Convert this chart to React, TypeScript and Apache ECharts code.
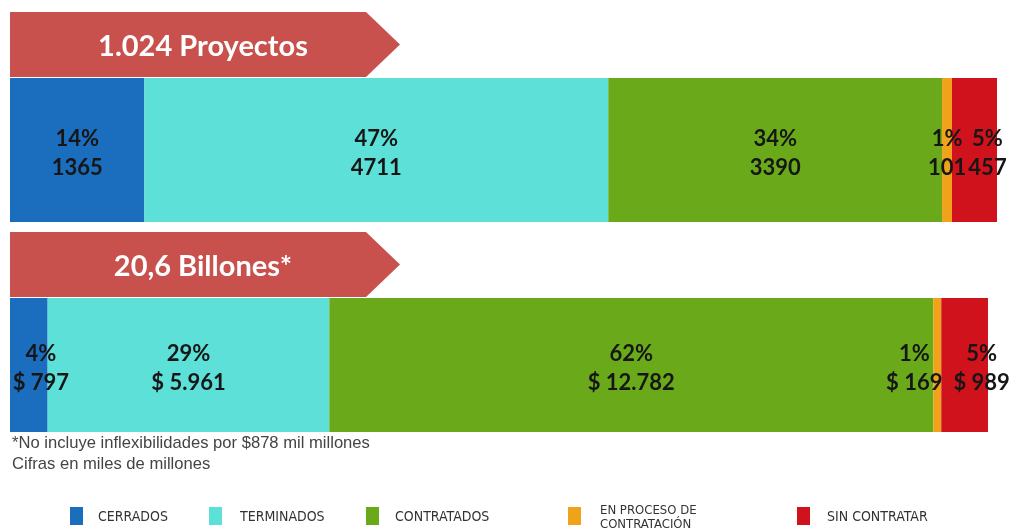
import React, { useEffect, useRef } from "react";
import * as echarts from "echarts";

const categories = ["CERRADOS", "TERMINADOS", "CONTRATADOS", "EN PROCESO DE\nCONTRATACIÓN", "SIN CONTRATAR"];
const proyectos = [1365, 4711, 3390, 101, 457];
const billones = [797, 5961, 12782, 169, 989];
const bannerTitles = ["1.024 Proyectos", "20,6 Billones*"];
const footnotes = ["*No incluye inflexibilidades por $878 mil millones", "Cifras en miles de millones"];

const colors = ["#1a6ebd", "#5ce0d8", "#6aaa1a", "#f0a21a", "#d0121c"];
const labelOffsets1 = [[0, 2], [0, 2], [0, 2], [0, 2], [13, 2]];
const labelOffsets2 = [[12, 2], [0, 2], [0, 2], [-23, 2], [17, 2]];
const legendLefts = [70, 209, 366, 568, 797];
const legendPads = [10, 13, 11, 14, 12];

const fmtThousands = (v: number) => String(v).replace(/\B(?=(\d{3})+(?!\d))/g, ".");

export default function App() {
  const ref = useRef<HTMLDivElement>(null);
  useEffect(() => {
    if (!ref.current) return;
    const chart = echarts.init(ref.current, null, { renderer: "svg" });
    const sum1 = proyectos.reduce((a, b) => a + b, 0);
    const sum2 = billones.reduce((a, b) => a + b, 0);
    const labelFont = { fontFamily: "Lato", fontWeight: "bold" as const, fontSize: 22, lineHeight: 29, color: "#161616" };

    const series: any[] = [];
    categories.forEach((c, i) => {
      series.push({
        type: "bar",
        name: c,
        xAxisIndex: 0,
        yAxisIndex: 0,
        stack: "p",
        barWidth: "100%",
        itemStyle: { color: colors[i] },
        label: {
          show: true,
          position: "inside",
          offset: labelOffsets1[i],
          ...labelFont,
          formatter: (p: any) => `${Math.round((p.value / sum1) * 100)}%\n${p.value}`,
        },
        data: [proyectos[i]],
      });
    });
    categories.forEach((c, i) => {
      series.push({
        type: "bar",
        name: c,
        xAxisIndex: 1,
        yAxisIndex: 1,
        stack: "b",
        barWidth: "100%",
        itemStyle: { color: colors[i] },
        label: {
          show: true,
          position: "inside",
          offset: labelOffsets2[i],
          ...labelFont,
          formatter: (p: any) => `${Math.round((p.value / sum2) * 100)}%\n$ ${fmtThousands(p.value)}`,
        },
        data: [billones[i]],
      });
    });

    const banner = (y0: number, y1: number, title: string) => {
      const ym = (y0 + y1) / 2;
      return [
        {
          type: "polygon",
          shape: { points: [[10, y0], [366, y0], [400, ym], [366, y1], [10, y1]] },
          style: { fill: "#c8504d" },
        },
        {
          type: "text",
          x: 203,
          y: ym,
          style: {
            text: title,
            fill: "#ffffff",
            font: "bold 29px Lato",
            align: "center",
            verticalAlign: "middle",
          },
        },
      ];
    };

    chart.setOption({
      animation: false,
      grid: [
        { left: 10, top: 78, width: 987, height: 144 },
        { left: 10, top: 298, width: 978, height: 134 },
      ],
      xAxis: [
        { type: "value", gridIndex: 0, min: 0, max: sum1, show: false },
        { type: "value", gridIndex: 1, min: 0, max: sum2, show: false },
      ],
      yAxis: [
        { type: "category", gridIndex: 0, data: ["Proyectos"], show: false },
        { type: "category", gridIndex: 1, data: ["Billones"], show: false },
      ],
      legend: categories.map((c, i) => ({
        data: [c],
        left: legendLefts[i],
        top: i === 3 ? 502 : 507,
        padding: 0,
        icon: "rect",
        itemWidth: 13,
        itemHeight: 18,
        selectedMode: false,
        textStyle: {
          fontFamily: "'Liberation Sans Narrow', 'DejaVu Sans Condensed', sans-serif",
          fontSize: i === 3 ? 13 : 14,
          lineHeight: 14,
          color: "#333333",
          padding: [0, 0, 0, legendPads[i]],
        },
      })),
      graphic: [
        ...banner(12, 77, bannerTitles[0]),
        ...banner(232, 297, bannerTitles[1]),
        ...footnotes.map((t, i) => ({
          type: "text",
          x: 12,
          y: 442 + i * 21,
          style: {
            text: t,
            fill: "#444444",
            font: "16.6px 'Liberation Sans'",
            verticalAlign: "middle",
          },
        })),
      ],
      series,
    });
    return () => chart.dispose();
  }, []);
  return <div ref={ref} style={{ position: "fixed", left: 0, top: 0, width: 1015, height: 532 }} />;
}
